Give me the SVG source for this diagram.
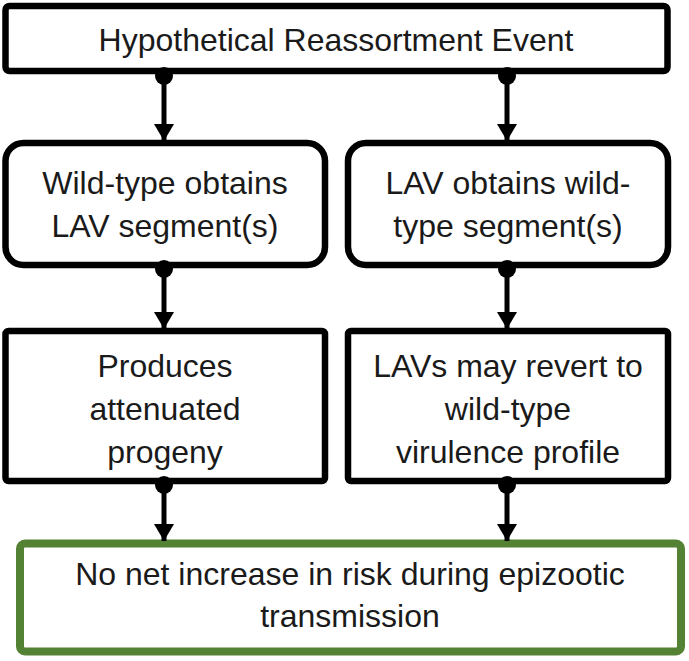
<svg xmlns="http://www.w3.org/2000/svg" width="689" height="661" viewBox="0 0 689 661">
<style>
.box{fill:#fff;stroke:#000;stroke-width:6.5;stroke-linejoin:round}
.green{fill:#fff;stroke:#548235;stroke-width:8;stroke-linejoin:round}
.t{font-family:"Liberation Sans",Arial,sans-serif;font-size:32px;fill:#1a1a1a;text-anchor:middle}
.c{stroke:#000;stroke-width:5;fill:none}
.dot{fill:#000}
</style>
<defs>
<marker id="arr" markerWidth="17" markerHeight="20" refX="17" refY="10" orient="auto" markerUnits="userSpaceOnUse" viewBox="0 0 17 20">
<path d="M0,0 L17,10 L0,20 Z" fill="#000"/>
</marker>
</defs>
<rect width="689" height="661" fill="#fff"/>
<g id="n-top">
<rect class="box" x="5.5" y="6" width="662" height="65" rx="4"/>
<text class="t" x="336" y="51">Hypothetical Reassortment Event</text>
</g>
<g id="n-wild">
<rect class="box" x="5.5" y="143" width="319.5" height="122" rx="18"/>
<text class="t" x="165" y="194">Wild-type obtains</text>
<text class="t" x="165" y="237">LAV segment(s)</text>
</g>
<g id="n-lav">
<rect class="box" x="348" y="143" width="320" height="122" rx="18"/>
<text class="t" x="508" y="194">LAV obtains wild-</text>
<text class="t" x="508" y="237">type segment(s)</text>
</g>
<g id="n-attenuated">
<rect class="box" x="5.5" y="331" width="319.5" height="150" rx="3"/>
<text class="t" x="165" y="377">Produces</text>
<text class="t" x="165" y="420">attenuated</text>
<text class="t" x="165" y="463">progeny</text>
</g>
<g id="n-revert">
<rect class="box" x="348" y="331" width="320" height="150" rx="3"/>
<text class="t" x="508" y="377">LAVs may revert to</text>
<text class="t" x="508" y="420">wild-type</text>
<text class="t" x="508" y="463">virulence profile</text>
</g>
<g id="n-risk">
<rect class="green" x="20" y="543.5" width="661" height="108" rx="5"/>
<text class="t" x="350" y="585">No net increase in risk during epizootic</text>
<text class="t" x="350" y="627">transmission</text>
</g>
<g id="connectors">
<line class="c" x1="164" y1="76" x2="164" y2="141" marker-end="url(#arr)"/>
<circle class="dot" cx="164" cy="76" r="9"/>
<line class="c" x1="507" y1="76" x2="507" y2="141" marker-end="url(#arr)"/>
<circle class="dot" cx="507" cy="76" r="9"/>
<line class="c" x1="164" y1="269" x2="164" y2="329" marker-end="url(#arr)"/>
<circle class="dot" cx="164" cy="269" r="9"/>
<line class="c" x1="507" y1="269" x2="507" y2="329" marker-end="url(#arr)"/>
<circle class="dot" cx="507" cy="269" r="9"/>
<line class="c" x1="164" y1="485" x2="164" y2="541" marker-end="url(#arr)"/>
<circle class="dot" cx="164" cy="485" r="9"/>
<line class="c" x1="507" y1="485" x2="507" y2="541" marker-end="url(#arr)"/>
<circle class="dot" cx="507" cy="485" r="9"/>
</g>
</svg>
